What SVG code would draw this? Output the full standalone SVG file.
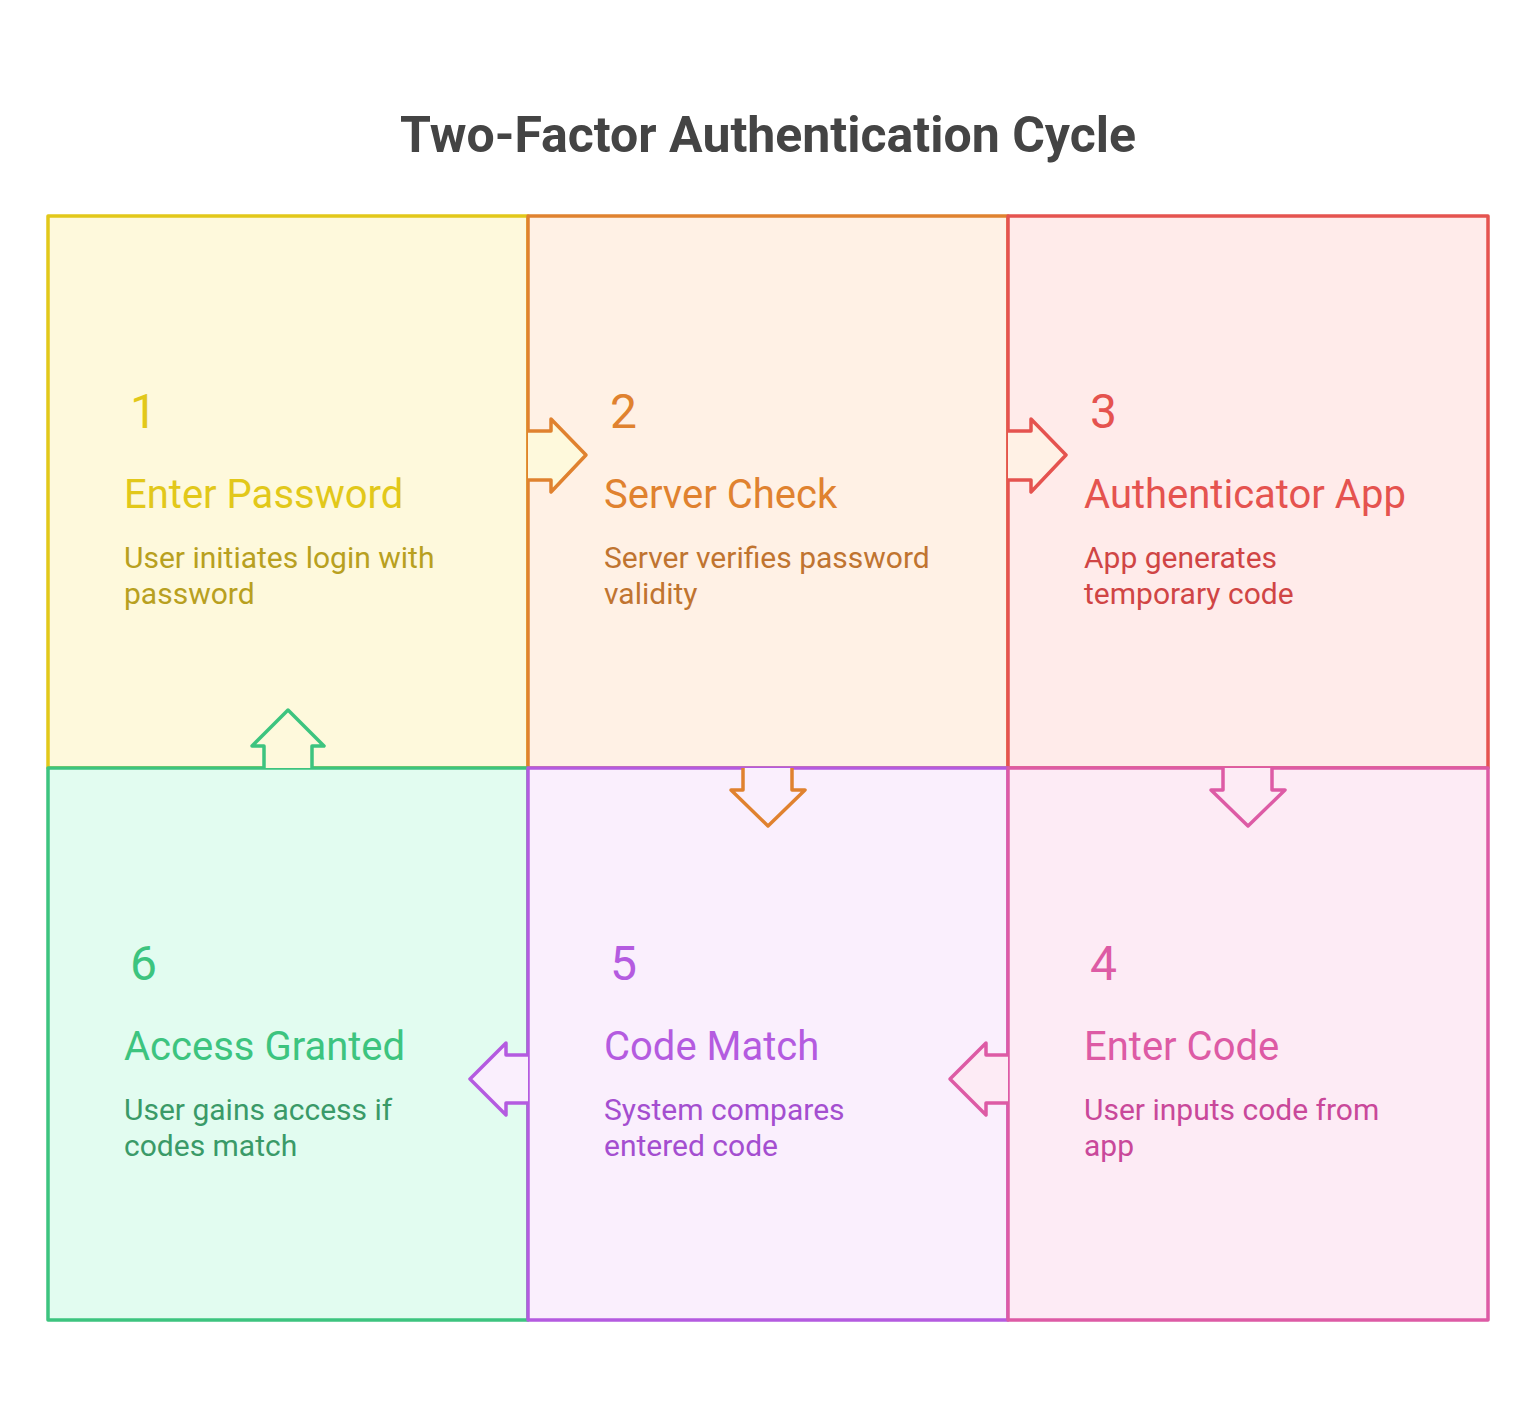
<svg xmlns="http://www.w3.org/2000/svg" width="1536" height="1416" viewBox="0 0 1536 1416">
<style>
text{font-family:Roboto,"Liberation Sans",sans-serif}
.t{font-size:50px;font-weight:bold;fill:#444}
.n{font-size:48px}.h{font-size:40px}.d{font-size:30px}
.b{stroke-width:3.5;stroke-linejoin:round}
</style>
<rect width="1536" height="1416" fill="#fff"/>
<text class="t" x="768" y="152" text-anchor="middle">Two-Factor Authentication Cycle</text>
<g id="n1"><rect class="b" x="48" y="216" width="480" height="552" fill="#FEF9DC" stroke="#E2C81A"/>
<text class="n" x="130" y="428" fill="#E2C81A">1</text><text class="h" x="124" y="508" fill="#E2C81A">Enter Password</text>
<text class="d" fill="#B8A020"><tspan x="124" y="568">User initiates login with</tspan><tspan x="124" y="604">password</tspan></text></g>
<g id="n2"><rect class="b" x="528" y="216" width="480" height="552" fill="#FFF1E5" stroke="#E0822F"/>
<text class="n" x="610" y="428" fill="#E0822F">2</text><text class="h" x="604" y="508" fill="#E0822F">Server Check</text>
<text class="d" fill="#C07430"><tspan x="604" y="568">Server verifies password</tspan><tspan x="604" y="604">validity</tspan></text></g>
<g id="n3"><rect class="b" x="1008" y="216" width="480" height="552" fill="#FFEBEA" stroke="#E5534F"/>
<text class="n" x="1090" y="428" fill="#E5534F">3</text><text class="h" x="1084" y="508" fill="#E5534F">Authenticator App</text>
<text class="d" fill="#D04545"><tspan x="1084" y="568">App generates</tspan><tspan x="1084" y="604">temporary code</tspan></text></g>
<g id="n6"><rect class="b" x="48" y="768" width="480" height="552" fill="#E2FCF0" stroke="#3DC47F"/>
<text class="n" x="130" y="980" fill="#3DC47F">6</text><text class="h" x="124" y="1060" fill="#3DC47F">Access Granted</text>
<text class="d" fill="#3A9A68"><tspan x="124" y="1120">User gains access if</tspan><tspan x="124" y="1156">codes match</tspan></text></g>
<g id="n5"><rect class="b" x="528" y="768" width="480" height="552" fill="#FAEFFD" stroke="#B45BE0"/>
<text class="n" x="610" y="980" fill="#B45BE0">5</text><text class="h" x="604" y="1060" fill="#B45BE0">Code Match</text>
<text class="d" fill="#A44ED0"><tspan x="604" y="1120">System compares</tspan><tspan x="604" y="1156">entered code</tspan></text></g>
<g id="n4"><rect class="b" x="1008" y="768" width="480" height="552" fill="#FDEBF5" stroke="#DD5BA5"/>
<text class="n" x="1090" y="980" fill="#DD5BA5">4</text><text class="h" x="1084" y="1060" fill="#DD5BA5">Enter Code</text>
<text class="d" fill="#C9489A"><tspan x="1084" y="1120">User inputs code from</tspan><tspan x="1084" y="1156">app</tspan></text></g>
<g id="connectors" class="b">
<polyline points="528,431 551,431 551,419 586,455 551,492 551,480 528,480" fill="#FEF9DC" stroke="#E0822F"/>
<polyline points="1008,431 1031,431 1031,419 1066,455 1031,492 1031,480 1008,480" fill="#FFF1E5" stroke="#E5534F"/>
<polyline points="743,768 743,790 731,790 768,826 805,790 792,790 792,768" fill="#FAEFFD" stroke="#E0822F"/>
<polyline points="1223,768 1223,790 1211,790 1248,826 1285,790 1272,790 1272,768" fill="#FDEBF5" stroke="#DD5BA5"/>
<polyline points="1008,1055 986,1055 986,1043 950,1079 986,1115 986,1103 1008,1103" fill="#FDEBF5" stroke="#DD5BA5"/>
<polyline points="528,1055 506,1055 506,1043 470,1079 506,1115 506,1103 528,1103" fill="#FAEFFD" stroke="#B45BE0"/>
<polyline points="264,768 264,746 252,746 288,710 324,746 312,746 312,768" fill="#FEF9DC" stroke="#3DC47F"/>
</g>
</svg>
